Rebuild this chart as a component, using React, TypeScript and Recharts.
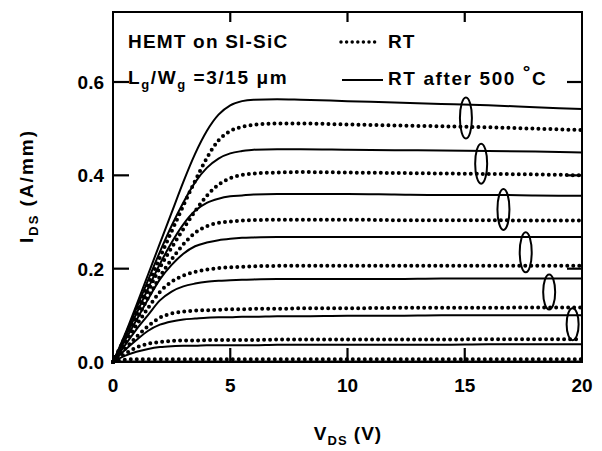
import React from 'react';
import { LineChart, Line, XAxis, YAxis, ReferenceDot, ReferenceArea, Legend } from 'recharts';

// Drain voltage (V)
const vds = [0, 0.5, 1, 1.5, 2, 2.5, 3, 3.5, 4, 4.5, 5, 5.5, 6, 7, 8, 10, 12, 14, 16, 18, 20];

// RT (dotted) curves, A/mm, top gate bias to bottom
const rt1 = [0, 0.052, 0.108, 0.166, 0.224, 0.28, 0.335, 0.388, 0.437, 0.475, 0.495, 0.504, 0.508, 0.511, 0.511, 0.509, 0.507, 0.505, 0.503, 0.5, 0.497];
const rt2 = [0, 0.048, 0.1, 0.152, 0.202, 0.245, 0.285, 0.323, 0.356, 0.38, 0.394, 0.401, 0.404, 0.406, 0.407, 0.406, 0.405, 0.404, 0.403, 0.402, 0.4];
const rt3 = [0, 0.044, 0.09, 0.138, 0.183, 0.22, 0.252, 0.277, 0.291, 0.298, 0.301, 0.303, 0.304, 0.305, 0.305, 0.305, 0.304, 0.304, 0.304, 0.303, 0.303];
const rt4 = [0, 0.04, 0.079, 0.116, 0.15, 0.172, 0.185, 0.193, 0.198, 0.201, 0.203, 0.204, 0.205, 0.206, 0.206, 0.206, 0.206, 0.206, 0.206, 0.206, 0.206];
const rt5 = [0, 0.027, 0.054, 0.077, 0.095, 0.104, 0.108, 0.11, 0.111, 0.112, 0.113, 0.113, 0.114, 0.114, 0.115, 0.115, 0.116, 0.116, 0.116, 0.117, 0.117];
const rt6 = [0, 0.017, 0.031, 0.039, 0.043, 0.045, 0.046, 0.046, 0.047, 0.047, 0.047, 0.047, 0.047, 0.048, 0.048, 0.048, 0.048, 0.048, 0.049, 0.049, 0.049];
const rt7 = [0, 0.005, 0.006, 0.006, 0.006, 0.006, 0.006, 0.006, 0.006, 0.006, 0.006, 0.006, 0.006, 0.006, 0.006, 0.006, 0.006, 0.006, 0.006, 0.006, 0.006];

// RT after 500 °C (solid) curves, A/mm
const after1 = [0, 0.058, 0.122, 0.188, 0.254, 0.32, 0.386, 0.446, 0.495, 0.53, 0.55, 0.559, 0.562, 0.563, 0.562, 0.559, 0.556, 0.553, 0.55, 0.546, 0.542];
const after2 = [0, 0.055, 0.115, 0.176, 0.236, 0.292, 0.342, 0.385, 0.416, 0.436, 0.447, 0.452, 0.455, 0.456, 0.456, 0.455, 0.454, 0.453, 0.452, 0.451, 0.449];
const after3 = [0, 0.05, 0.104, 0.158, 0.21, 0.256, 0.295, 0.324, 0.341, 0.35, 0.355, 0.357, 0.359, 0.36, 0.36, 0.36, 0.359, 0.358, 0.358, 0.357, 0.356];
const after4 = [0, 0.045, 0.09, 0.135, 0.177, 0.208, 0.232, 0.248, 0.256, 0.261, 0.264, 0.266, 0.267, 0.268, 0.268, 0.268, 0.268, 0.268, 0.268, 0.268, 0.268];
const after5 = [0, 0.035, 0.07, 0.101, 0.132, 0.151, 0.162, 0.168, 0.172, 0.174, 0.175, 0.176, 0.177, 0.178, 0.178, 0.178, 0.178, 0.179, 0.179, 0.179, 0.179];
const after6 = [0, 0.025, 0.047, 0.067, 0.08, 0.087, 0.091, 0.093, 0.095, 0.096, 0.096, 0.097, 0.097, 0.098, 0.098, 0.099, 0.099, 0.1, 0.1, 0.1, 0.1];
const after7 = [0, 0.013, 0.022, 0.028, 0.032, 0.034, 0.035, 0.035, 0.036, 0.036, 0.036, 0.036, 0.036, 0.037, 0.037, 0.037, 0.037, 0.037, 0.038, 0.038, 0.038];
const after8 = [0, 0.001, 0.001, 0.001, 0.001, 0.001, 0.001, 0.001, 0.001, 0.001, 0.001, 0.001, 0.001, 0.001, 0.001, 0.001, 0.001, 0.001, 0.001, 0.001, 0.001];

// Axis ticks
const xTicks = [0, 5, 10, 15, 20];
const xInnerTicks = [5, 10, 15];
const yTicks = [0, 0.2, 0.4, 0.6];
const yTickLabels = ['0.0', '0.2', '0.4', '0.6'];
const yInnerTicks = [0.2, 0.4, 0.6];
const xMin = 0;
const xMax = 20;
const yMin = 0;
const yMax = 0.75;

// Ellipses grouping each pair of curves (center V, center I)
const groupV = [15.05, 15.7, 16.65, 17.6, 18.6, 19.6];
const groupI = [0.523, 0.425, 0.327, 0.235, 0.15, 0.081];

const rtSeries = [rt1, rt2, rt3, rt4, rt5, rt6, rt7];
const afterSeries = [after1, after2, after3, after4, after5, after6, after7, after8];

const data = vds.map((v, i) => {
  const row: Record<string, number> = { v };
  rtSeries.forEach((s, k) => (row['rt' + (k + 1)] = s[i]));
  afterSeries.forEach((s, k) => (row['after' + (k + 1)] = s[i]));
  return row;
});

const FONT = '"Liberation Sans", Arial, Helvetica, sans-serif';
const ELLIPSE_RY = [20.5, 20, 20.5, 20, 17.5, 16];

const BottomTick = (props: any) => {
  const { x, y, payload } = props;
  return (
    <text x={x} y={y + 30} textAnchor="middle" fontFamily={FONT} fontWeight="bold" fontSize={19} fill="#000">
      {payload.value}
    </text>
  );
};

const LeftTick = (props: any) => {
  const { x, y, payload } = props;
  const idx = yTicks.indexOf(payload.value);
  return (
    <text x={x - 9} y={y + 7} textAnchor="end" fontFamily={FONT} fontWeight="bold" fontSize={19} fill="#000">
      {idx >= 0 ? yTickLabels[idx] : payload.value}
    </text>
  );
};

// tick mark shapes drawn from a point on the frame, pointing inward
const tickShape = (dx: number, dy: number) => (p: any) => (
  <path d={`M${p.cx},${p.cy}l${dx},${dy}`} stroke="#000" strokeWidth={2.2} fill="none" />
);

const LegendContent = () => (
  <svg width={260} height={75} style={{ display: 'block', overflow: 'visible' }}>
    <line x1={11} x2={45} y1={14} y2={14} stroke="#000" strokeWidth={3.5} strokeDasharray="0 5.6" strokeLinecap="round" />
    <text x={58} y={20} fontFamily={FONT} fontWeight="bold" fontSize={19} letterSpacing={1} fill="#000">RT</text>
    <line x1={12} x2={53} y1={52} y2={52} stroke="#000" strokeWidth={2} />
    <text x={58} y={57} fontFamily={FONT} fontWeight="bold" fontSize={19} letterSpacing={1.6} fill="#000">
      RT after 500 <tspan dy={-7}>°</tspan><tspan dy={7}>C</tspan>
    </text>
  </svg>
);

const ellipseShape = (ry: number) => (p: any) => (
  <ellipse cx={p.cx} cy={p.cy} rx={6} ry={ry} fill="none" stroke="#000" strokeWidth={2} />
);

export default function App() {
  return (
    <div style={{ position: 'absolute', left: 0, top: 0, width: 602, height: 451, background: '#fff' }}>
      <LineChart width={602} height={451} data={data} margin={{ top: 12, right: 20, bottom: 59, left: 53 }}>
        <XAxis
          dataKey="v"
          type="number"
          domain={[xMin, xMax]}
          ticks={xTicks}
          interval={0}
          height={30}
          axisLine={false}
          tickLine={false}
          tickSize={0}
          tickMargin={0}
          tick={<BottomTick />}
          label={{
            content: () => (
              <text x={348} y={440} textAnchor="middle" fontFamily={FONT} fontWeight="bold" fontSize={19} letterSpacing={1} fill="#000">
                V<tspan fontSize={13} dy={5}>DS</tspan>
                <tspan dy={-5}> (V)</tspan>
              </text>
            ),
          }}
        />
        <YAxis
          type="number"
          domain={[yMin, yMax]}
          ticks={yTicks}
          interval={0}
          width={60}
          axisLine={false}
          tickLine={false}
          tickSize={0}
          tickMargin={0}
          tick={<LeftTick />}
          label={{
            content: () => (
              <text
                x={33}
                y={186}
                transform="rotate(-90, 33, 186)"
                textAnchor="middle"
                fontFamily={FONT}
                fontWeight="bold"
                fontSize={19}
                letterSpacing={2}
                fill="#000"
              >
                I<tspan fontSize={13} dy={5}>DS</tspan>
                <tspan dy={-5}> (A/mm)</tspan>
              </text>
            ),
          }}
        />
        <ReferenceArea
          x1={xMin}
          x2={xMax}
          y1={yMin}
          y2={yMax}
          fill="none"
          fillOpacity={0}
          stroke="#000"
          strokeWidth={2}
          strokeOpacity={1}
          ifOverflow="visible"
        />
        {xInnerTicks.map((t) => (
          <ReferenceDot key={'xb' + t} x={t} y={yMin} r={1} ifOverflow="visible" shape={tickShape(0, -14)} />
        ))}
        {xInnerTicks.map((t) => (
          <ReferenceDot key={'xt' + t} x={t} y={yMax} r={1} ifOverflow="visible" shape={tickShape(0, 10)} />
        ))}
        {yInnerTicks.map((t) => (
          <ReferenceDot key={'yl' + t} x={xMin} y={t} r={1} ifOverflow="visible" shape={tickShape(16, 0)} />
        ))}
        {yInnerTicks.map((t) => (
          <ReferenceDot key={'yr' + t} x={xMax} y={t} r={1} ifOverflow="visible" shape={tickShape(-15, 0)} />
        ))}
        <Legend
          layout="horizontal"
          verticalAlign="middle"
          align="center"
          content={<LegendContent />}
          wrapperStyle={{ position: 'absolute', left: 330, top: 28, width: 260, height: 75 }}
        />
        {afterSeries.map((_, k) => (
          <Line
            key={'after' + k}
            dataKey={'after' + (k + 1)}
            type="monotone"
            stroke="#000"
            strokeWidth={2}
            dot={false}
            activeDot={false}
            isAnimationActive={false}
            name="RT after 500 °C"
          />
        ))}
        {rtSeries.map((_, k) => (
          <Line
            key={'rt' + k}
            dataKey={'rt' + (k + 1)}
            type="monotone"
            stroke="#000"
            strokeWidth={4}
            strokeDasharray="0 6"
            strokeLinecap="round"
            dot={false}
            activeDot={false}
            isAnimationActive={false}
            name="RT"
          />
        ))}
        {groupV.map((v, i) => (
          <ReferenceDot key={'e' + i} x={v} y={groupI[i]} r={6} shape={ellipseShape(ELLIPSE_RY[i])} />
        ))}
      </LineChart>
      <svg width={602} height={451} style={{ position: 'absolute', left: 0, top: 0, pointerEvents: 'none' }}>
        <text x={128} y={48} fontFamily={FONT} fontWeight="bold" fontSize={19} letterSpacing={1.2} fill="#000">
          HEMT on SI-SiC
        </text>
        <text x={128} y={84} fontFamily={FONT} fontWeight="bold" fontSize={19} letterSpacing={1.6} fill="#000">
          L<tspan fontSize={13} dy={5}>g</tspan>
          <tspan dy={-5}>/W</tspan>
          <tspan fontSize={13} dy={5}>g</tspan>
          <tspan dy={-5}> =3/15 μm</tspan>
        </text>
      </svg>
    </div>
  );
}
